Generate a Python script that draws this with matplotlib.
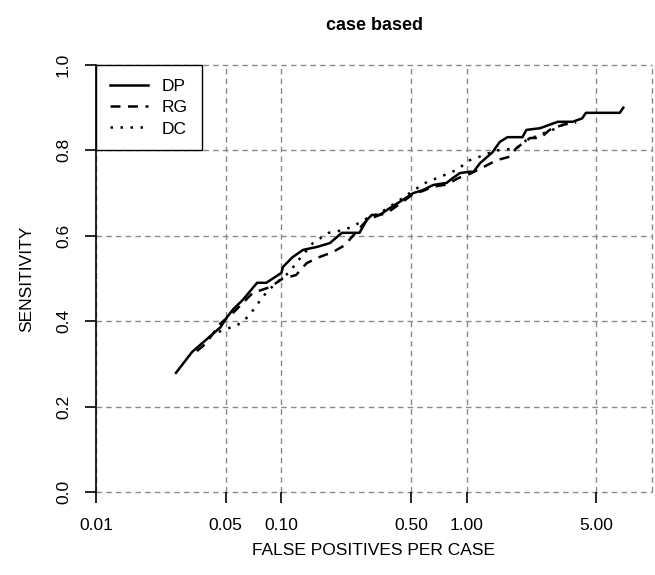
import matplotlib.pyplot as plt
import matplotlib.ticker as mticker

plt.rcParams['font.family'] = ['Liberation Sans', 'DejaVu Sans']

# DP (solid)
dp_fp = [0.027, 0.033, 0.047, 0.051, 0.055, 0.062, 0.074, 0.083, 0.100, 0.102, 0.115,
         0.131, 0.156, 0.183, 0.212, 0.264, 0.289, 0.308, 0.340, 0.385, 0.437, 0.515,
         0.580, 0.660, 0.780, 0.840, 0.920, 1.04, 1.09, 1.18, 1.38, 1.51, 1.66, 2.0,
         2.1, 2.49, 3.1, 3.73, 4.2, 4.4, 6.7, 7.0]
dp_sens = [0.279, 0.328, 0.386, 0.410, 0.428, 0.450, 0.490, 0.490, 0.513, 0.527, 0.550,
           0.567, 0.574, 0.583, 0.607, 0.607, 0.637, 0.649, 0.649, 0.665, 0.680, 0.700,
           0.707, 0.719, 0.724, 0.735, 0.747, 0.750, 0.750, 0.770, 0.796, 0.820, 0.831, 0.831,
           0.848, 0.852, 0.867, 0.867, 0.875, 0.888, 0.888, 0.900]

# RG (dashed)
rg_fp = [0.035, 0.039, 0.047, 0.055, 0.070, 0.087, 0.102, 0.120, 0.137, 0.160, 0.190,
         0.220, 0.240, 0.290, 0.340, 0.370, 0.437, 0.515, 0.580, 0.660, 0.780, 0.900,
         1.04, 1.22, 1.45, 1.70, 1.85, 2.2, 2.5, 2.8, 3.3, 3.7, 3.9]
rg_sens = [0.330, 0.347, 0.395, 0.420, 0.466, 0.480, 0.500, 0.508, 0.536, 0.550, 0.562,
           0.578, 0.597, 0.637, 0.649, 0.653, 0.675, 0.698, 0.705, 0.715, 0.720, 0.735,
           0.745, 0.760, 0.777, 0.785, 0.805, 0.829, 0.829, 0.848, 0.860, 0.864, 0.865]

# DC (dotted)
dc_fp = [0.046, 0.0485, 0.058, 0.066, 0.074, 0.078, 0.089, 0.100, 0.111, 0.120, 0.148,
         0.180, 0.220, 0.250, 0.290, 0.340, 0.420, 0.520, 0.610, 0.720, 0.880, 1.04,
         1.45, 1.86, 2.1, 2.7, 3.2, 3.4]
dc_sens = [0.375, 0.379, 0.391, 0.410, 0.438, 0.454, 0.480, 0.500, 0.515, 0.536, 0.583,
           0.607, 0.614, 0.625, 0.641, 0.653, 0.679, 0.707, 0.726, 0.738, 0.754, 0.777,
           0.800, 0.805, 0.824, 0.843, 0.855, 0.864]

x_ticks = [0.01, 0.05, 0.10, 0.50, 1.00, 5.00]
x_grid = [0.01, 0.05, 0.10, 0.50, 1.00, 5.00, 10.0]
y_ticks = [0.0, 0.2, 0.4, 0.6, 0.8, 1.0]

fig = plt.figure(figsize=(6.55, 5.75), dpi=100)
ax = fig.add_axes([96 / 655, 83 / 575, 556 / 655, 427 / 575])

grid_kw = dict(color='#8a8a8a', linestyle=(0, (4, 3)), linewidth=1.0, zorder=0, clip_on=False)
for xv in x_grid:
    ax.axvline(xv, **grid_kw)
for yv in y_ticks:
    ax.axhline(yv, **grid_kw)

ax.plot(dp_fp, dp_sens, color='black', linestyle='-', linewidth=1.8, label='DP')
ax.plot(rg_fp, rg_sens, color='black', linestyle=(0, (4, 3)), linewidth=1.8, label='RG')
ax.plot(dc_fp, dc_sens, color='black', linestyle=(0, (1, 3)), linewidth=1.8, label='DC')

ax.set_xscale('log')
ax.set_xlim(0.01, 10)
ax.set_ylim(0, 1)
ax.xaxis.set_major_locator(mticker.FixedLocator(x_ticks))
ax.xaxis.set_major_formatter(mticker.FixedFormatter([f'{v:.2f}' for v in x_ticks]))
ax.xaxis.set_minor_locator(mticker.NullLocator())
ax.set_yticks(y_ticks)
ax.set_yticklabels([f'{v:.1f}' for v in y_ticks], rotation=90, va='center')

for s in ['top', 'right', 'bottom']:
    ax.spines[s].set_visible(False)
ax.spines['left'].set_linewidth(1.2)

ax.tick_params(axis='both', direction='out', length=8, width=1.2, labelsize=12.5, pad=10)
ax.tick_params(axis='x', pad=11)

ax.set_xlabel('FALSE POSITIVES PER CASE', fontsize=12.5, labelpad=7)
ax.set_ylabel('SENSITIVITY', fontsize=12.5, labelpad=16)
ax.set_title('case based', fontsize=13, fontweight='bold', pad=25)

leg = ax.legend(loc='upper left', bbox_to_anchor=(0, 1), borderaxespad=0,
                fancybox=False, edgecolor='black', framealpha=1, fontsize=12.5,
                handlelength=2.2, borderpad=0.8, labelspacing=0.35)
leg.get_frame().set_linewidth(1.0)

fig.savefig('out.png', dpi=100)
